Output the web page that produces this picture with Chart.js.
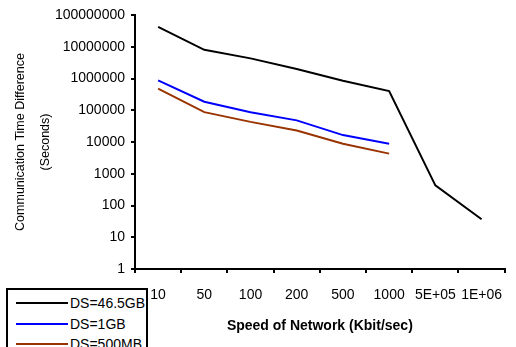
<!DOCTYPE html>
<html>
<head>
<meta charset="utf-8">
<script src="https://cdn.jsdelivr.net/npm/chart.js@4"></script>
<style>
  html, body { margin: 0; padding: 0; background: #fff; }
  #wrap { position: relative; width: 516px; height: 347px; overflow: hidden; }
  #legend {
    position: absolute; left: 6px; top: 288px; width: 142px; height: 70px;
    border: 2px solid #000; background: #fff; box-sizing: border-box;
    font: 14px "Liberation Sans", Arial, sans-serif;
  }
  #legend div { position: absolute; left: 0; height: 20px; line-height: 20px; white-space: nowrap; }
  #legend span.ln { position: absolute; left: 8px; top: 9px; width: 52px; height: 2px; }
  #legend span.tx { position: absolute; left: 62px; top: 0; }
</style>
</head>
<body>
<div id="wrap">
  <canvas id="chart" width="516" height="347"></canvas>
  <div id="legend"></div>
</div>
<script>
// categories on the x axis (network speed, Kbit/sec)
const speeds = ["10", "50", "100", "200", "500", "1000", "5E+05", "1E+06"];

// communication time difference (seconds)
const ds465GB = [42000000, 8000000, 4300000, 2000000, 850000, 400000, 430, 37];
const ds1GB = [870000, 185000, 87000, 48000, 16500, 8800, null, null];
const ds500MB = [480000, 87000, 43000, 23000, 8800, 4300, null, null];

// y axis tick values
const yTicks = [1, 10, 100, 1000, 10000, 100000, 1000000, 10000000, 100000000];

const font = "'Liberation Sans', Arial, sans-serif";

const ctx = document.getElementById("chart").getContext("2d");

const chart = new Chart(ctx, {
  type: "line",
  data: {
    labels: speeds,
    datasets: [
      { label: "DS=46.5GB", data: ds465GB, borderColor: "#000000", borderWidth: 2 },
      { label: "DS=1GB", data: ds1GB, borderColor: "#0000ff", borderWidth: 2 },
      { label: "DS=500MB", data: ds500MB, borderColor: "#993300", borderWidth: 2 }
    ]
  },
  options: {
    responsive: false,
    animation: false,
    elements: { point: { radius: 0 }, line: { tension: 0 } },
    layout: { padding: { top: 15, right: 0, bottom: 0, left: 0 } },
    plugins: {
      legend: { display: false },
      tooltip: { enabled: false }
    },
    scales: {
      x: {
        type: "category",
        offset: true,
        border: { color: "#000", width: 2 },
        grid: { offset: true, drawOnChartArea: false, color: "#000", lineWidth: 2, tickLength: 4 },
        ticks: { color: "#000", font: { family: font, size: 14 }, padding: 14, maxRotation: 0, autoSkip: false },
        title: {
          display: true,
          text: "Speed of Network (Kbit/sec)",
          color: "#000",
          font: { family: font, size: 14, weight: "bold" },
          padding: { top: 0, bottom: 12 }
        },
        afterFit: (scale) => { scale.height = 78; }
      },
      y: {
        type: "logarithmic",
        min: 1,
        max: 100000000,
        border: { color: "#000", width: 2 },
        grid: { drawOnChartArea: false, color: "#000", lineWidth: 2, tickLength: 4 },
        ticks: {
          color: "#000",
          font: { family: font, size: 14 },
          padding: 6,
          callback: (v) => String(v)
        },
        afterBuildTicks: (scale) => { scale.ticks = yTicks.map((v) => ({ value: v })); },
        title: {
          display: true,
          text: ["Communication Time Difference", "(Seconds)"],
          color: "#000",
          font: { family: font, size: 12.5, lineHeight: 2 },
          padding: { top: 8.5, bottom: 0 }
        },
        afterFit: (scale) => { scale.width = 135; }
      }
    }
  }
});

// legend built from the datasets
const legendEl = document.getElementById("legend");
chart.data.datasets.forEach((ds, i) => {
  const row = document.createElement("div");
  row.style.top = (3 + i * 20.5) + "px";
  row.style.width = "100%";
  row.innerHTML = '<span class="ln" style="background:' + ds.borderColor + '"></span><span class="tx">' + ds.label + "</span>";
  legendEl.appendChild(row);
});
</script>
</body>
</html>
